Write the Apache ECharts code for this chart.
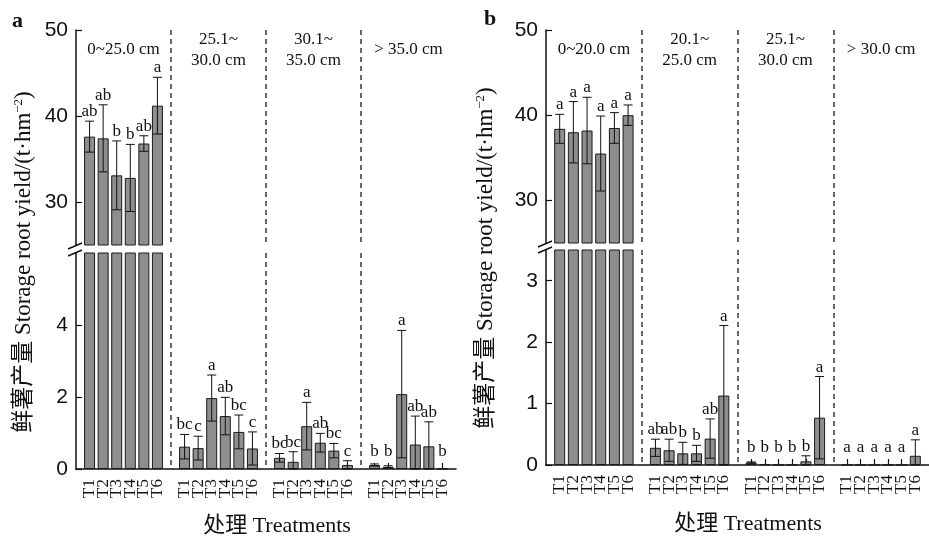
<!DOCTYPE html>
<html><head><meta charset="utf-8">
<script src="https://cdn.jsdelivr.net/npm/echarts@6/dist/echarts.min.js"></script>
<style>html,body{margin:0;padding:0;background:#fff}#c{width:929px;height:538px}</style>
</head><body><div id="c"></div>
<script>
// ---------- data ----------
const treatments = ['T1', 'T2', 'T3', 'T4', 'T5', 'T6'];

// Panel a
const groupsA = ['0~25.0 cm', '25.1~\n30.0 cm', '30.1~\n35.0 cm', '> 35.0 cm'];
const meanA = [
  [37.6, 37.4, 33.1, 32.8, 36.8, 41.2],
  [0.62, 0.58, 1.97, 1.47, 1.03, 0.57],
  [0.31, 0.20, 1.19, 0.73, 0.51, 0.11],
  [0.11, 0.06, 2.08, 0.68, 0.63, 0.01]
];
const sdA = [
  [1.8, 3.9, 4.0, 3.9, 0.9, 3.3],
  [0.34, 0.33, 0.64, 0.52, 0.47, 0.46],
  [0.12, 0.28, 0.66, 0.26, 0.20, 0.12],
  [0.03, 0.03, 1.77, 0.79, 0.68, 0]
];
const letA = [
  ['ab', 'ab', 'b', 'b', 'ab', 'a'],
  ['bc', 'c', 'a', 'ab', 'bc', 'c'],
  ['bc', 'bc', 'a', 'ab', 'bc', 'c'],
  ['b', 'b', 'a', 'ab', 'ab', 'b']
];

// Panel b
const groupsB = ['0~20.0 cm', '20.1~\n25.0 cm', '25.1~\n30.0 cm', '> 30.0 cm'];
const meanB = [
  [38.4, 38.0, 38.2, 35.5, 38.5, 40.0],
  [0.28, 0.24, 0.19, 0.19, 0.43, 1.13],
  [0.04, 0.01, 0, 0, 0.06, 0.77],
  [0, 0, 0, 0, 0, 0.15]
];
const sdB = [
  [1.7, 3.6, 3.9, 4.4, 1.8, 1.2],
  [0.14, 0.18, 0.18, 0.13, 0.32, 1.14],
  [0.01, 0, 0, 0, 0.09, 0.67],
  [0, 0, 0, 0, 0, 0.26]
];
const letB = [
  ['a', 'a', 'a', 'a', 'a', 'a'],
  ['ab', 'ab', 'b', 'b', 'ab', 'a'],
  ['b', 'b', 'b', 'b', 'b', 'a'],
  ['a', 'a', 'a', 'a', 'a', 'a']
];

const upperTicksA = [30, 40, 50];
const lowerTicksA = [0, 2, 4];
const upperTicksB = [30, 40, 50];
const lowerTicksB = [0, 1, 2, 3];

// ---------- helpers ----------
const SLOT = treatments.length + 1;
const NG = 4;
const cats = [''];
for (let g = 0; g < NG; g++) { cats.push(...treatments); cats.push(''); }
const catIdx = (g, i) => g * SLOT + i + 1;

const SERIF = '"Liberation Serif", "Noto Sans CJK SC", serif';
const SANS = '"Liberation Sans", Arial, sans-serif';
const INK = '#111';

function barData(means, groupFilter) {
  const d = cats.map(() => null);
  means.forEach((row, g) => {
    if (!groupFilter(g)) return;
    row.forEach((v, i) => { d[catIdx(g, i)] = v; });
  });
  return d;
}
function errData(means, sds, lets, groupFilter) {
  const items = [], letters = [];
  means.forEach((row, g) => {
    if (!groupFilter(g)) return;
    row.forEach((v, i) => { items.push([catIdx(g, i), v, sds[g][i]]); letters.push(lets[g][i]); });
  });
  return { items, letters };
}
function errRender(letters, lower) {
  return function (params, api) {
    const x = api.value(0), m = api.value(1), s = api.value(2);
    const top = api.coord([x, m + s]);
    const bot = api.coord([x, Math.max(m - s, 0)]);
    const hw = 4.5;
    const ch = [];
    const st = { stroke: INK, lineWidth: 1 };
    if (s > 0) {
      ch.push({ type: 'line', shape: { x1: top[0], y1: top[1], x2: bot[0], y2: bot[1] }, style: st });
      ch.push({ type: 'line', shape: { x1: top[0] - hw, y1: top[1], x2: top[0] + hw, y2: top[1] }, style: st });
      ch.push({ type: 'line', shape: { x1: bot[0] - hw, y1: bot[1], x2: bot[0] + hw, y2: bot[1] }, style: st });
    }
    let ty = top[1];
    if (lower) { const z = api.coord([x, 0])[1]; ty = Math.min(ty, z - 8); }
    ch.push({ type: 'text', style: { text: letters[params.dataIndex], x: top[0], y: ty - 1, align: 'center', verticalAlign: 'bottom', fontFamily: SERIF, fontSize: 17, fill: INK } });
    return { type: 'group', children: ch };
  };
}
function titleRender(titles) {
  return function (params, api) {
    const g = api.value(0);
    const a = api.coord([catIdx(g, 0), 50]);
    const b = api.coord([catIdx(g, treatments.length - 1), 50]);
    return { type: 'text', style: { text: titles[g], x: (a[0] + b[0]) / 2, y: a[1] + 20, align: 'center', verticalAlign: 'middle', lineHeight: 21, fontFamily: SERIF, fontSize: 17, fill: INK } };
  };
}

function xAxisDef(gridIndex, lower) {
  return {
    type: 'category', gridIndex, data: cats, boundaryGap: false,
    axisLine: { show: lower, onZero: false, lineStyle: { color: INK, width: 1.5 } },
    axisTick: { show: lower, inside: true, length: 6, interval: (i) => i % SLOT !== 0, lineStyle: { color: INK, width: 1.2 } },
    axisLabel: { show: lower, interval: 0, rotate: 90, margin: 10, fontFamily: SERIF, fontSize: 17, color: INK },
    splitLine: { show: true, interval: (i) => i % SLOT === 0 && i > 0 && i < cats.length - 1, lineStyle: { color: '#444', width: 1.6, type: [5, 4] } }
  };
}
function yAxisDef(gridIndex, min, max, ticks) {
  return {
    type: 'value', gridIndex, min, max,
    axisLine: { show: true, lineStyle: { color: INK, width: 1.5 } },
    axisTick: { show: true, inside: true, length: 6, customValues: ticks, lineStyle: { color: INK, width: 1.2 } },
    axisLabel: { customValues: ticks, margin: 8, fontFamily: SANS, fontSize: 21, color: INK },
    splitLine: { show: false }
  };
}

const barStyle = { color: '#8e8e8e', borderColor: '#1a1a1a', borderWidth: 1 };
const isFirst = (g) => g === 0;
const notFirst = (g) => g !== 0;
const all = () => true;

const eAu = errData(meanA, sdA, letA, isFirst);
const eAl = errData(meanA, sdA, letA, notFirst);
const eBu = errData(meanB, sdB, letB, isFirst);
const eBl = errData(meanB, sdB, letB, notFirst);

const grids = [
  { left: 76, width: 380, top: 30, height: 215 },
  { left: 76, width: 380, top: 253, height: 216 },
  { left: 546, width: 383, top: 30, height: 213 },
  { left: 546, width: 383, top: 250, height: 215 }
];

function brk(x, y) {
  return { type: 'line', shape: { x1: x - 8, y1: y + 3, x2: x + 6, y2: y - 3 }, style: { stroke: INK, lineWidth: 1.4 }, z: 100 };
}

const yName = { text: '{t|鲜薯产量 Storage root yield/(t·hm}{s|−2}{t|)}', align: 'center', verticalAlign: 'middle',
  rich: { t: { fontFamily: SERIF, fontSize: 23, fill: INK }, s: { fontFamily: SERIF, fontSize: 13, fill: INK, verticalAlign: 'top', padding: [0, 0, 10, 0] } } };

const option = {
  animation: false,
  backgroundColor: '#fff',
  grid: grids,
  xAxis: [xAxisDef(0, false), xAxisDef(1, true), xAxisDef(2, false), xAxisDef(3, true)],
  yAxis: [
    yAxisDef(0, 25, 50, upperTicksA),
    yAxisDef(1, 0, 6, lowerTicksA),
    yAxisDef(2, 25, 50, upperTicksB),
    yAxisDef(3, 0, 3.5, lowerTicksB)
  ],
  series: [
    { type: 'bar', xAxisIndex: 0, yAxisIndex: 0, data: barData(meanA, isFirst), barWidth: 11, itemStyle: barStyle },
    { type: 'bar', xAxisIndex: 1, yAxisIndex: 1, data: barData(meanA, all), barWidth: 11, itemStyle: barStyle },
    { type: 'bar', xAxisIndex: 2, yAxisIndex: 2, data: barData(meanB, isFirst), barWidth: 11, itemStyle: barStyle },
    { type: 'bar', xAxisIndex: 3, yAxisIndex: 3, data: barData(meanB, all), barWidth: 11, itemStyle: barStyle },
    { type: 'custom', xAxisIndex: 0, yAxisIndex: 0, data: eAu.items, renderItem: errRender(eAu.letters, false), clip: false, z: 5 },
    { type: 'custom', xAxisIndex: 1, yAxisIndex: 1, data: eAl.items, renderItem: errRender(eAl.letters, true), clip: false, z: 5 },
    { type: 'custom', xAxisIndex: 2, yAxisIndex: 2, data: eBu.items, renderItem: errRender(eBu.letters, false), clip: false, z: 5 },
    { type: 'custom', xAxisIndex: 3, yAxisIndex: 3, data: eBl.items, renderItem: errRender(eBl.letters, true), clip: false, z: 5 },
    { type: 'custom', xAxisIndex: 0, yAxisIndex: 0, data: groupsA.map((t, g) => [g]), renderItem: titleRender(groupsA), clip: false, z: 5 },
    { type: 'custom', xAxisIndex: 2, yAxisIndex: 2, data: groupsB.map((t, g) => [g]), renderItem: titleRender(groupsB), clip: false, z: 5 }
  ],
  graphic: [
    { type: 'text', left: 12, top: 10, style: { text: 'a', fontFamily: SERIF, fontWeight: 'bold', fontSize: 22, fill: INK } },
    { type: 'text', left: 484, top: 8, style: { text: 'b', fontFamily: SERIF, fontWeight: 'bold', fontSize: 22, fill: INK } },
    brk(76, 246), brk(76, 253), brk(546, 244), brk(546, 250),
    { type: 'text', x: 24, y: 262, rotation: Math.PI / 2, style: yName },
    { type: 'text', x: 486, y: 258, rotation: Math.PI / 2, style: yName },
    { type: 'text', x: 277, y: 526, style: { text: '处理 Treatments', align: 'center', verticalAlign: 'middle', fontFamily: SERIF, fontSize: 22, fill: INK } },
    { type: 'text', x: 748, y: 524, style: { text: '处理 Treatments', align: 'center', verticalAlign: 'middle', fontFamily: SERIF, fontSize: 22, fill: INK } }
  ]
};

const chart = echarts.init(document.getElementById('c'), null, { renderer: 'canvas' });
chart.setOption(option);
</script>
</body></html>
